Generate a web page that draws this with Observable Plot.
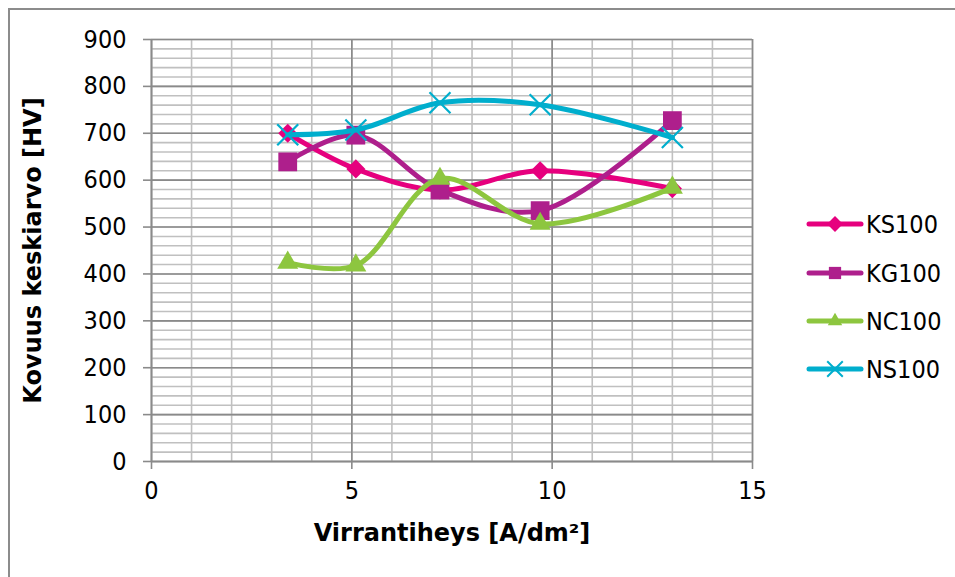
<!DOCTYPE html>
<html>
<head>
<meta charset="utf-8">
<script src="https://cdn.jsdelivr.net/npm/d3@7"></script>
<script src="https://cdn.jsdelivr.net/npm/@observablehq/plot@0.6"></script>
<style>
  html, body { margin: 0; padding: 0; background: #fff; overflow: hidden; }
  #wrap { position: relative; width: 955px; height: 577px; overflow: hidden; }
  #frame { position: absolute; left: 8px; top: 8px; width: 1100px; height: 800px; border: 2px solid #8c8c8c; box-sizing: border-box; }
  #chart { position: absolute; left: 0; top: 0; }
  #legend { position: absolute; left: 0; top: 0; }
</style>
</head>
<body>
<div id="wrap">
  <div id="frame"></div>
  <div id="chart"></div>
  <svg id="legend" width="955" height="577"></svg>
</div>
<script>
// ---- data ----
const currentDensity = [3.4, 5.1, 7.2, 9.7, 13];
const seriesNames = ["KS100", "KG100", "NC100", "NS100"];
const ks100 = [700, 624, 579, 620, 582];
const kg100 = [639, 696, 579, 535, 727];
const nc100 = [424, 418, 603, 507, 584];
const ns100 = [697, 707, 765, 761, 691];
const seriesColors = ["#e6007e", "#ae1f8c", "#8dc63f", "#00aecd"];
const seriesSymbols = ["diamond2", "square", "triangle", "times"];
const xTicks = [0, 5, 10, 15];
const yTicks = [0, 100, 200, 300, 400, 500, 600, 700, 800, 900];
const xTitle = "Virrantiheys [A/dm²]";
const yTitle = "Kovuus keskiarvo [HV]";

const values = [ks100, kg100, nc100, ns100];
const data = seriesNames.flatMap((s, i) => currentDensity.map((x, j) => ({series: s, x, y: values[i][j]})));

const FONT = "'DejaVu Sans Condensed', 'DejaVu Sans', sans-serif";
const TITLE_FONT = "'DejaVu Sans', sans-serif";
const symbolR = {diamond2: 8.6, square: 10.6, triangle: 7.8, times: 9.6};

const seriesMarks = seriesNames.flatMap((s, i) => {
  const d = data.filter(r => r.series === s);
  const sym = seriesSymbols[i];
  const dotOpts = sym === "times"
    ? {x: "x", y: "y", symbol: () => sym, r: symbolR[sym], stroke: seriesColors[i], strokeWidth: 2.2, fill: "none"}
    : {x: "x", y: "y", symbol: () => sym, r: symbolR[sym], fill: seriesColors[i], stroke: "none"};
  return [
    Plot.line(d, {x: "x", y: "y", stroke: seriesColors[i], strokeWidth: 5, curve: "catmull-rom", strokeLinecap: "round", strokeLinejoin: "round"}),
    Plot.dot(d, dotOpts)
  ];
});

const chart = Plot.plot({
  width: 955,
  height: 577,
  marginLeft: 151,
  marginRight: 203,
  marginTop: 39,
  marginBottom: 116,
  style: {fontFamily: FONT, fontSize: "25px", color: "#000", background: "transparent"},
  x: {domain: [0, 15]},
  y: {domain: [0, 900]},
  marks: [
    Plot.gridX(d3.range(0, 16, 1), {stroke: "#c0c0c0", strokeOpacity: 1, strokeWidth: 1.6}),
    Plot.gridY(d3.range(0, 901, 20), {stroke: "#c0c0c0", strokeOpacity: 1, strokeWidth: 1.6}),
    Plot.gridX([5, 10, 15], {stroke: "#8a8a8a", strokeOpacity: 1, strokeWidth: 1.6}),
    Plot.gridY(d3.range(100, 901, 100), {stroke: "#8a8a8a", strokeOpacity: 1, strokeWidth: 1.6}),
    Plot.ruleY([0], {stroke: "#8a8a8a", strokeWidth: 2}),
    Plot.ruleX([0], {stroke: "#8a8a8a", strokeWidth: 2}),
    Plot.axisX(xTicks, {tickSize: 8, tickPadding: 12, stroke: "#8a8a8a", strokeWidth: 1.6, fill: "#000", label: null, fontSize: 25}),
    Plot.axisY(yTicks, {tickSize: 8, tickPadding: 17, stroke: "#8a8a8a", strokeWidth: 1.6, fill: "#000", label: null, fontSize: 25}),
    ...seriesMarks,
    Plot.text([xTitle], {frameAnchor: "bottom", dy: 79, text: d => d, fontWeight: "bold", fontSize: 24, fontFamily: TITLE_FONT, fill: "#000", textAnchor: "middle"}),
    Plot.text([yTitle], {frameAnchor: "left", dx: -118, rotate: -90, text: d => d, fontWeight: "bold", fontSize: 24, fontFamily: TITLE_FONT, fill: "#000", textAnchor: "middle"})
  ]
});
document.getElementById("chart").appendChild(chart);

// ---- legend ----
const leg = d3.select("#legend");
const rowY = [224, 273, 321, 369];
seriesNames.forEach((s, i) => {
  const g = leg.append("g").attr("transform", `translate(0,${rowY[i]})`);
  g.append("line").attr("x1", 809).attr("x2", 861).attr("y1", 0).attr("y2", 0)
    .attr("stroke", seriesColors[i]).attr("stroke-width", 5).attr("stroke-linecap", "round");
  const symMap = {diamond2: d3.symbolDiamond2, square: d3.symbolSquare, triangle: d3.symbolTriangle, times: d3.symbolTimes};
  const sizes = {diamond2: 160, square: 150, triangle: 90, times: 160};
  const p = g.append("path").attr("transform", "translate(835,0)")
    .attr("d", d3.symbol(symMap[seriesSymbols[i]], sizes[seriesSymbols[i]])());
  if (seriesSymbols[i] === "times") p.attr("fill", "none").attr("stroke", seriesColors[i]).attr("stroke-width", 2);
  else p.attr("fill", seriesColors[i]);
  g.append("text").attr("x", 866).attr("y", 0).attr("dy", "0.35em")
    .attr("font-family", FONT).attr("font-size", 25).attr("fill", "#000").text(s);
});
</script>
</body>
</html>
